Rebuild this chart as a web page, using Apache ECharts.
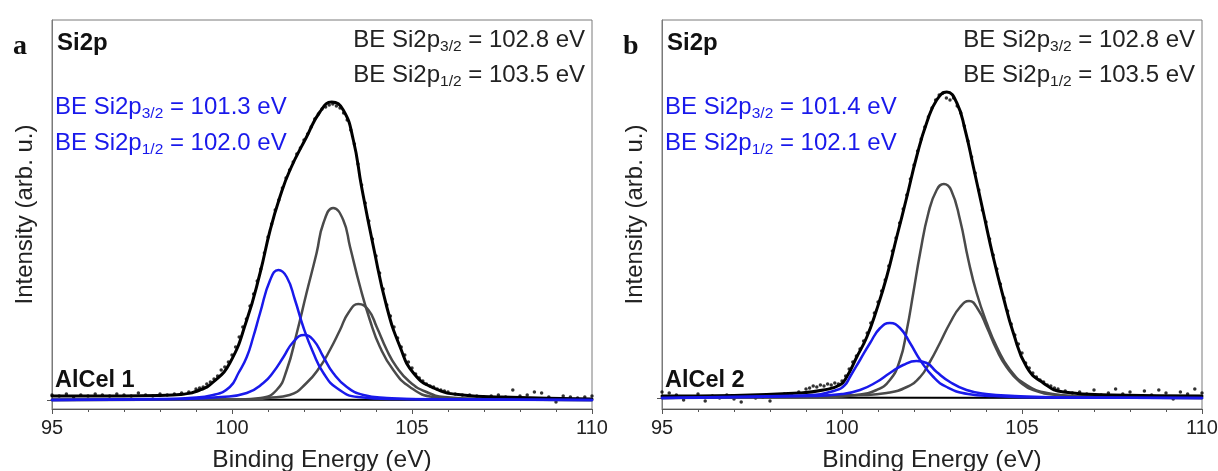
<!DOCTYPE html>
<html><head><meta charset="utf-8">
<script src="https://cdn.jsdelivr.net/npm/echarts@6/dist/echarts.min.js"></script>
<style>html,body{margin:0;padding:0;background:#fff}#c{width:1218px;height:471px}</style>
</head><body><div id="c"></div>
<script>
// ---- data (binding energy in eV, intensity in arb. units) ----
const xTicks = [95, 100, 105, 110];
const dotX = [95.0,95.2,95.4,95.6,95.8,96.0,96.2,96.4,96.6,96.8,97.0,97.2,97.4,97.6,97.8,98.0,98.2,98.4,98.6,98.8,
  99.0,99.1,99.2,99.3,99.4,99.5,99.6,99.7,99.8,99.9,
  100.0,100.1,100.2,100.3,100.4,100.5,100.6,100.7,100.8,100.9,
  101.0,101.1,101.2,101.3,101.4,101.5,101.6,101.7,101.8,101.9,
  102.0,102.1,102.2,102.3,102.4,102.5,102.6,102.7,102.8,102.9,
  103.0,103.1,103.2,103.3,103.4,103.5,103.6,103.7,103.8,103.9,
  104.0,104.1,104.2,104.3,104.4,104.5,104.6,104.7,104.8,104.9,
  105.0,105.1,105.2,105.3,105.4,105.5,105.6,105.7,105.8,105.9,
  106.0,
  106.2,106.4,106.6,106.8,107.0,107.2,107.4,107.6,107.8,108.0,108.2,108.4,108.6,108.8,109.0,109.2,109.4,109.6,109.8,110.0];
const dotA = [5,4,6,3,5,4,6,5,4,6,5,4,7,5,4,6,5,6,7,8,
  11,12,13,16,18,21,24,30,33,38,
  45,53,63,73,81,94,106,119,131,147,
  163,176,190,200,212,222,230,238,246,252,
  260,266,273,281,286,291,293,295,296,294,
  292,287,280,270,256,236,215,197,179,161,
  144,127,111,95,84,73,62,53,45,38,
  32,26,22,19,16,14,13,11,10,9,
  8,
  6,5,5,4,3,4,5,3,10,4,5,8,7,3,-2,4,3,2,3,4];
const dotB = [6,5,3,-2,1,4,-3,2,0,3,-1,-4,2,0,1,-3,2,4,3,6,
  9,10,12,11,13,12,14,13,15,14,
  17,22,29,36,42,49,57,65,75,85,
  96,107,118,132,147,160,175,189,203,219,
  233,247,259,271,281,290,298,303,305,300,
  298,300,292,285,272,257,241,225,208,188,
  176,159,143,129,114,100,87,74,63,54,
  45,35,30,25,21,18,16,13,12,10,
  9,
  7,5,6,4,8,3,5,9,4,6,2,7,3,8,5,-1,6,4,9,5];

// panel a fitted curves [eV, intensity]
const envA = [[95,4],[97,4],[98,4.5],[98.56,5.5],[99.11,10],[99.48,18],[99.94,37],[100.41,80],[100.78,127],[101.06,170],[101.33,203],[101.61,230],[102.07,263],[102.44,288],[102.77,298],[103.09,290],[103.37,260],[103.6,213],[103.93,153],[104.3,93],[104.67,53],[105.04,27],[105.6,12],[106.4,5],[107.5,3],[110,1]];
const g32A = [[95,0],[100.2,0.5],[100.8,2],[101.24,10],[101.52,30],[101.8,67],[102.07,107],[102.35,147],[102.54,177],[102.81,192],[103.09,180],[103.28,153],[103.56,113],[103.83,80],[104.11,53],[104.48,30],[104.94,13],[105.6,3],[106.5,1],[110,0]];
const g12A = [[95,0],[100.5,0.5],[101.0,2],[101.6,5],[102.07,17],[102.44,33],[102.72,50],[103.0,70],[103.23,87],[103.51,96],[103.79,90],[104.02,73],[104.3,50],[104.57,33],[104.94,18],[105.4,8],[105.9,3],[107,1],[110,0]];
const b32A = [[95,0],[98.0,1],[98.8,2],[99.48,5],[99.94,13],[100.18,27],[100.41,43],[100.59,63],[100.78,87],[101.06,120],[101.29,130],[101.52,123],[101.75,100],[101.98,73],[102.26,47],[102.54,27],[102.91,12],[103.5,3],[104.5,1],[110,0]];
const b12A = [[95,0],[98.5,1],[99.7,3],[100.41,7],[100.87,17],[101.15,28],[101.43,43],[101.7,58],[102.0,65],[102.26,60],[102.54,43],[102.81,27],[103.19,13],[103.65,5],[104.3,2],[105.5,0.5],[110,0]];
const bgA = [[95,0.5],[110,0]];

// panel b fitted curves [eV, intensity]
const envB = [[95,2],[97,2.5],[98.83,5],[99.48,8],[99.94,13],[100.13,21],[100.41,41],[100.69,61],[100.96,88],[101.24,121],[101.52,161],[101.8,201],[102.07,241],[102.35,275],[102.63,298],[102.91,306],[103.19,295],[103.42,268],[103.65,231],[103.93,185],[104.2,141],[104.48,101],[104.76,65],[105.13,31],[105.59,15],[106.15,6],[107.5,3],[110,2]];
const g32B = [[95,0],[99.5,1],[100.4,3],[100.96,8],[101.33,18],[101.61,38],[101.8,68],[101.98,105],[102.17,145],[102.4,185],[102.63,208],[102.83,214],[103.03,208],[103.28,178],[103.51,138],[103.74,105],[104.02,75],[104.3,51],[104.67,28],[105.13,13],[105.7,5],[106.8,1.5],[110,0]];
const g12B = [[95,0],[100.6,3],[101.24,5],[101.8,11],[102.17,21],[102.44,36],[102.72,55],[103.0,75],[103.28,91],[103.53,97],[103.79,88],[104.02,71],[104.3,48],[104.57,31],[104.94,16],[105.4,7],[106.0,3],[107.5,1],[110,0]];
const b32B = [[95,0],[98.3,2],[99.2,3],[99.85,8],[100.08,13],[100.22,21],[100.5,38],[100.78,55],[101.06,70],[101.33,75],[101.61,70],[101.89,55],[102.17,38],[102.54,21],[102.91,11],[103.5,4],[104.2,2],[105.5,0.5],[110,0]];
const b12B = [[95,0],[99.2,2],[100.0,4],[100.5,8],[100.96,16],[101.33,25],[101.7,33],[102.07,37],[102.35,35],[102.63,26],[103.0,16],[103.46,8],[104.0,4],[104.8,2],[106,0.5],[110,0]];
const bgB = [[95,0.5],[110,0]];

const labelsA = {blue: ['101.3', '102.0'], gray: ['102.8', '103.5'], sample: 'AlCel 1', letter: 'a'};
const labelsB = {blue: ['101.4', '102.1'], gray: ['102.8', '103.5'], sample: 'AlCel 2', letter: 'b'};

// ---- chart ----
const F = '"Liberation Sans", Arial, Helvetica, sans-serif';
const BLUE = 'rgb(25,25,235)';
const GRAY = '#4a4a4a';
const AX = '#555';

function axes(idx, left, ymin, ymax) {
  return {
    grid: {left: left, top: 20, width: 540, height: 389, show: true, borderColor: '#7a7a7a', borderWidth: 1,
      backgroundColor: 'transparent', containLabel: false, outerBoundsMode: 'none'},
    x: {type: 'value', gridIndex: idx, min: 95, max: 110, interval: 5,
      axisLine: {onZero: false, lineStyle: {color: AX, width: 1}},
      axisTick: {show: true, inside: false, length: 5, lineStyle: {color: AX}},
      minorTick: {show: true, splitNumber: 5, length: 3, lineStyle: {color: AX}},
      splitLine: {show: false},
      axisLabel: {fontFamily: F, fontSize: 20, color: '#222', margin: 9, formatter: v => xTicks.includes(v) ? String(v) : ''},
      name: 'Binding Energy (eV)', nameLocation: 'middle', nameGap: 39,
      nameTextStyle: {fontFamily: F, fontSize: 24.5, color: '#222'}},
    y: {type: 'value', gridIndex: idx, min: ymin, max: ymax,
      axisLine: {show: true, lineStyle: {color: '#7a7a7a', width: 1}},
      axisTick: {show: true, inside: false, length: 5, customValues: [0], lineStyle: {color: AX}},
      axisLabel: {show: false}, splitLine: {show: false},
      name: 'Intensity (arb. u.)', nameLocation: 'middle', nameGap: 15,
      nameTextStyle: {fontFamily: F, fontSize: 24, color: '#222'}}
  };
}
const pa = axes(0, 52, -9, 380);
const pb = axes(1, 662, -11, 378);

function lineS(idx, data, color, width, z) {
  return {type: 'line', xAxisIndex: idx, yAxisIndex: idx, data: data, symbol: 'none',
    smooth: 0.5, lineStyle: {color: color, width: width, join: 'round', cap: 'round'}, z: z, silent: true, animation: false};
}
function dotsS(idx, ys) {
  return {type: 'scatter', xAxisIndex: idx, yAxisIndex: idx, data: dotX.map((x, i) => [x, ys[i]]),
    symbolSize: 3.5, itemStyle: {color: '#000'}, z: 1, silent: true, animation: false};
}

function beText(x, y, val, sub, color, align) {
  return {type: 'text', x: x, y: y, z: 50, style: {
    text: '{m|BE Si2p}{s|' + sub + '}{m| = ' + val + ' eV}',
    textAlign: align, textVerticalAlign: 'middle', fill: color,
    rich: {m: {fontFamily: F, fontSize: 24, lineHeight: 30, fill: color},
           s: {fontFamily: F, fontSize: 15.5, lineHeight: 12, verticalAlign: 'bottom', fill: color}}}};
}
function panelTexts(L, left, right) {
  return [
    {type: 'text', x: left - 39, y: 33, z: 50, style: {text: L.letter, font: 'bold 28px "Liberation Serif", "Times New Roman", serif', fill: '#111', textVerticalAlign: 'alphabetic'}},
    {type: 'text', x: left + 5, y: 43, z: 50, style: {text: 'Si2p', font: 'bold 24px ' + F, fill: '#111', textVerticalAlign: 'middle'}},
    beText(left + 3, 107, L.blue[0], '3/2', BLUE, 'left'),
    beText(left + 3, 143, L.blue[1], '1/2', BLUE, 'left'),
    beText(right - 7, 40, L.gray[0], '3/2', '#222', 'right'),
    beText(right - 7, 75, L.gray[1], '1/2', '#222', 'right'),
    {type: 'text', x: left + 3, y: 381, z: 50, style: {text: L.sample, font: 'bold 23.5px ' + F, fill: '#111', textVerticalAlign: 'middle'}}
  ];
}

const chart = echarts.init(document.getElementById('c'), null, {renderer: 'canvas'});
chart.setOption({
  animation: false,
  backgroundColor: '#fff',
  grid: [pa.grid, pb.grid],
  xAxis: [pa.x, pb.x],
  yAxis: [pa.y, pb.y],
  series: [
    dotsS(0, dotA),
    lineS(0, bgA, '#000', 2, 2),
    lineS(0, g32A, GRAY, 2.5, 3),
    lineS(0, g12A, GRAY, 2.5, 3),
    lineS(0, envA, '#000', 3, 4),
    lineS(0, b32A, BLUE, 2.5, 5),
    lineS(0, b12A, BLUE, 2.5, 5),
    dotsS(1, dotB),
    lineS(1, bgB, '#000', 2, 2),
    lineS(1, g32B, GRAY, 2.5, 3),
    lineS(1, g12B, GRAY, 2.5, 3),
    lineS(1, envB, '#000', 3, 4),
    lineS(1, b32B, BLUE, 2.5, 5),
    lineS(1, b12B, BLUE, 2.5, 5)
  ],
  graphic: panelTexts(labelsA, 52, 592).concat(panelTexts(labelsB, 662, 1202))
});
</script></body></html>
